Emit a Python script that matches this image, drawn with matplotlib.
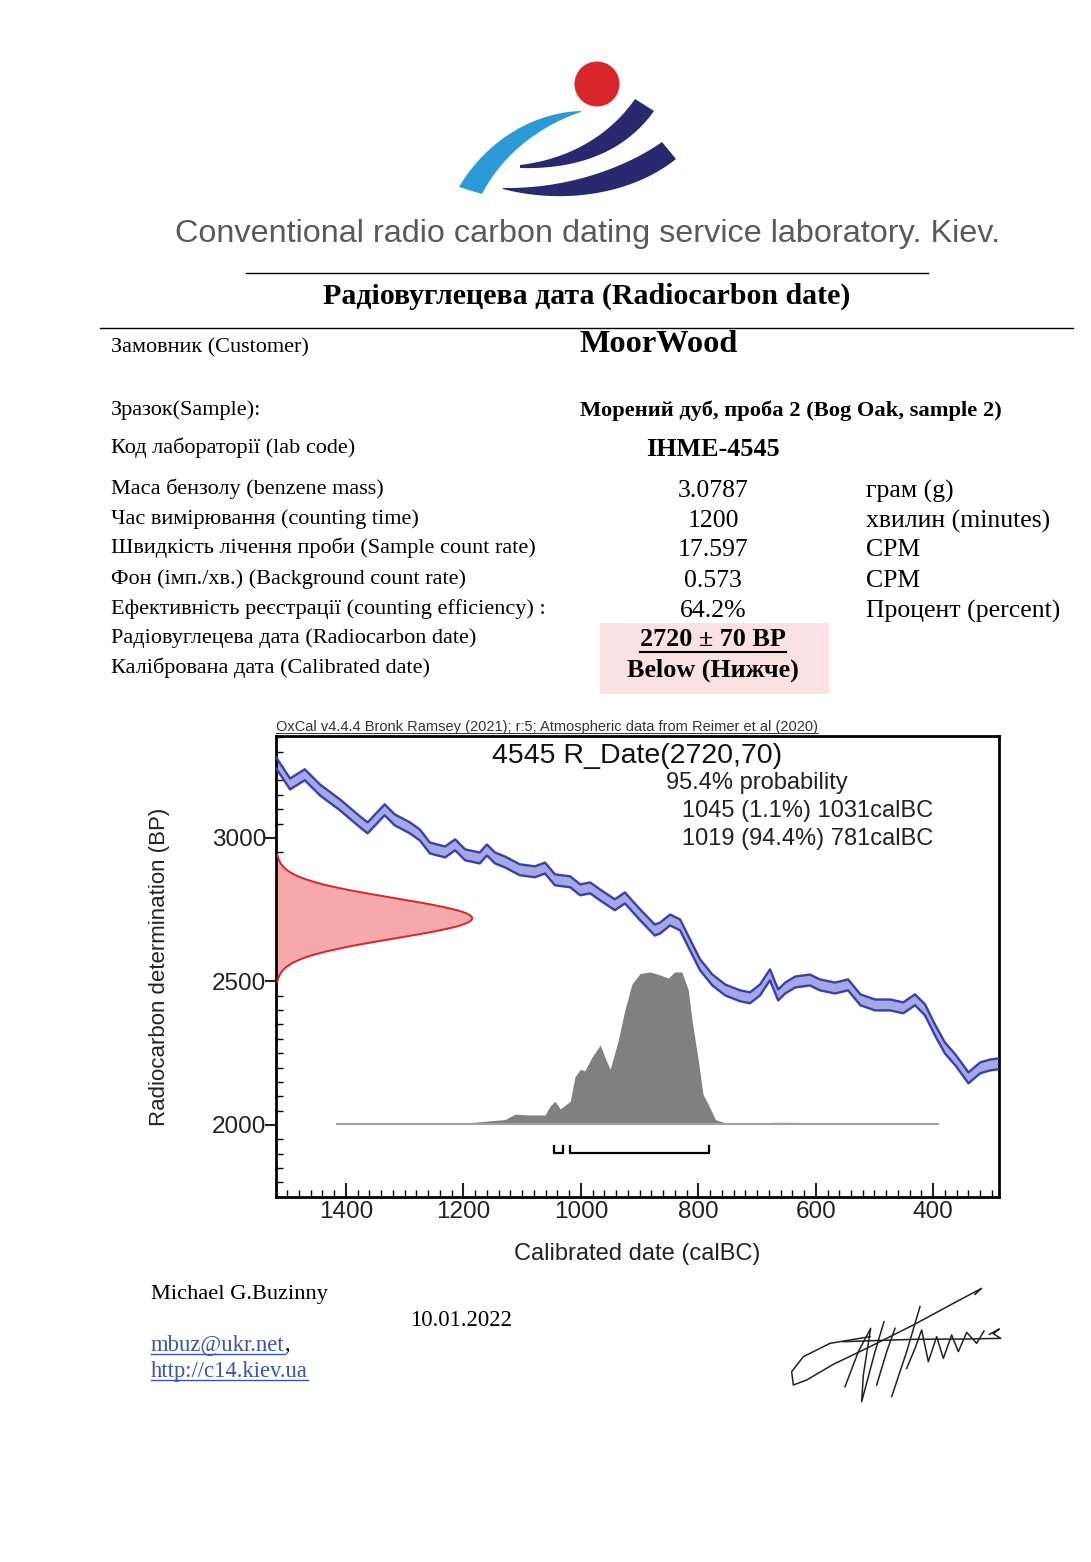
import numpy as np
import matplotlib.pyplot as plt
from matplotlib.patches import Circle, Polygon, Rectangle
from matplotlib.ticker import MultipleLocator
from math import comb

# ---- document text ----
header = "Conventional radio carbon dating service laboratory. Kiev."
title = "Радіовуглецева дата (Radiocarbon date)"
customer = "MoorWood"
sample = "Морений дуб, проба 2 (Bog Oak, sample 2)"
lab_code = "IHME-4545"
row_labels = [
    "Маса бензолу (benzene mass)",
    "Час вимірювання (counting time)",
    "Швидкість лічення проби (Sample count rate)",
    "Фон (імп./хв.) (Background count rate)",
    "Ефективність реєстрації (counting efficiency) :",
    "Радіовуглецева дата (Radiocarbon date)",
    "Калібрована дата (Calibrated date)",
]
row_values = ["3.0787", "1200", "17.597", "0.573", "64.2%"]
row_units = ["грам (g)", "хвилин (minutes)", "CPM", "CPM", "Процент (percent)"]
rc_date = "2720 ± 70 BP"
cal_text = "Below (Нижче)"

# ---- OxCal data ----
r_mean, r_sd = 2720, 70
ranges = [(1045, 1031), (1019, 781)]
range_text = ["1045 (1.1%) 1031calBC", "1019 (94.4%) 781calBC"]

# calibration curve (calBC, BP)
cal_x = [1519, 1495, 1470, 1444, 1410, 1376, 1363, 1334, 1317, 1291, 1274, 1257,
         1231, 1214, 1197, 1172, 1160, 1146, 1129, 1104, 1078, 1061, 1044, 1018,
         1001, 984, 967, 942, 925, 899, 874, 865, 848, 831, 814, 797, 776, 754,
         729, 712, 695, 678, 664, 652, 635, 610, 593, 567, 545, 524, 499, 473,
         451, 431, 414, 397, 380, 362, 340, 320, 303, 288]
cal_bp = [3262, 3188, 3220, 3167, 3115, 3056, 3035, 3098, 3063, 3035, 3010, 2965,
          2951, 2976, 2941, 2930, 2958, 2930, 2916, 2889, 2882, 2895, 2854, 2847,
          2819, 2826, 2801, 2767, 2791, 2732, 2679, 2686, 2714, 2697, 2627, 2558,
          2505, 2470, 2450, 2443, 2470, 2523, 2453, 2477, 2498, 2505, 2488, 2477,
          2488, 2436, 2418, 2418, 2408, 2436, 2401, 2331, 2268, 2226, 2164, 2199,
          2209, 2213]
cal_err = 19

# calibrated probability (relative)
prob_x = [1415, 1206, 1129, 1112, 1087, 1061, 1052, 1044, 1035, 1018, 1010, 1001,
          993, 981, 967, 957, 950, 937, 925, 913, 899, 882, 865, 851, 840, 828,
          817, 811, 800, 792, 783, 771, 754, 700, 670, 600, 392]
prob_y = [0.0, 0.004, 0.03, 0.065, 0.06, 0.06, 0.12, 0.15, 0.10, 0.15, 0.31, 0.36,
          0.35, 0.44, 0.52, 0.42, 0.36, 0.54, 0.75, 0.92, 0.99, 1.0, 0.98, 0.96,
          1.0, 1.0, 0.88, 0.69, 0.42, 0.195, 0.13, 0.03, 0.008, 0.0, 0.012, 0.01, 0.0]

W, H = 1091, 1562
fig = plt.figure(figsize=(W / 100, H / 100), dpi=100)
bg = fig.add_axes([0, 0, 1, 1])
bg.set_xlim(0, W)
bg.set_ylim(H, 0)
bg.axis('off')

serif = 'Liberation Serif'
sans = 'Liberation Sans'


def bez(pts, n=80):
    pts = np.asarray(pts, float)
    k = len(pts) - 1
    t = np.linspace(0, 1, n)[:, None]
    return sum(comb(k, i) * t ** i * (1 - t) ** (k - i) * pts[i] for i in range(k + 1))


def stroke(outer, inner, color):
    a = bez(outer)
    b = bez(inner)[::-1]
    bg.add_patch(Polygon(np.vstack([a, b]), closed=True, color=color, lw=0))


# logo
bg.add_patch(Circle((597, 84), 22.5, color='#d9262a', lw=0))
stroke([(459, 187), (490, 135), (540, 112), (581, 111)],
       [(482, 194), (505, 150), (545, 124), (581, 112)], '#2b9ad6')
stroke([(520, 165), (578, 158), (615, 128), (635, 99)],
       [(520, 168), (592, 170), (632, 142), (654, 111)], '#28296f')
stroke([(503, 188), (570, 189), (628, 166), (662, 142)],
       [(503, 189), (560, 204), (630, 196), (676, 159)], '#28296f')

bg.text(588, 234, header, fontsize=23.3, family=sans, color='#5a5a5a',
        ha='center', va='center')
bg.plot([246, 928], [273, 273], color='black', lw=1)
bg.text(587, 296, title, fontsize=21.5, family=serif, weight='bold',
        ha='center', va='center')
bg.plot([100, 1073], [328, 328], color='black', lw=1)

fs = 16
bg.text(111, 348, "Замовник (Customer)", fontsize=fs, family=serif, va='center')
bg.text(580, 345, customer, fontsize=23.3, family=serif, weight='bold', va='center')
bg.text(111, 410, "Зразок(Sample):", fontsize=fs, family=serif, va='center')
bg.text(580, 411, sample, fontsize=16.2, family=serif, weight='bold', va='center')
bg.text(111, 448, "Код лабораторії (lab code)", fontsize=fs, family=serif, va='center')
bg.text(713, 450, lab_code, fontsize=18.8, family=serif, weight='bold',
        ha='center', va='center')

bg.add_patch(Rectangle((600, 623), 229, 71, color='#fbe1e1', lw=0))
row_y = [489, 519, 548, 579, 609, 638, 668]
for i, lab in enumerate(row_labels):
    bg.text(111, row_y[i], lab, fontsize=fs, family=serif, va='center')
    if i < len(row_values):
        bg.text(713, row_y[i] + 2, row_values[i], fontsize=18.5, family=serif,
                ha='center', va='center')
        bg.text(866, row_y[i] + 2, row_units[i], fontsize=18.5, family=serif,
                va='center')
t_rc = bg.text(713, 640, rc_date, fontsize=18.8, family=serif, weight='bold',
               ha='center', va='center')
bg.text(713, 670, cal_text, fontsize=18.8, family=serif, weight='bold',
        ha='center', va='center')

# footer
bg.text(151, 1294, "Michael G.Buzinny", fontsize=16.1, family=serif, va='center')
bg.text(410, 1320, "10.01.2022", fontsize=16.3, family=serif, va='center')
link1 = bg.text(151, 1345, "mbuz@ukr.net", fontsize=16.3, family=serif,
                color='#3b55a8', va='center')
link2 = bg.text(151, 1371, "http://c14.kiev.ua", fontsize=16.3, family=serif,
                color='#3b55a8', va='center')

# signature
ox, oy = 780, 1275
sig = [
    [(270, 185), (150, 205), (70, 245), (35, 290), (40, 330), (80, 315), (160, 268),
     (260, 220), (400, 150), (520, 85), (605, 40), (585, 58)],
    [(190, 200), (400, 193), (560, 192), (662, 190), (640, 176), (658, 162), (628, 178)],
    [(195, 335), (235, 230), (272, 160), (250, 300), (245, 380), (285, 230), (312, 140)],
    [(290, 330), (320, 230), (345, 160)],
    [(335, 365), (380, 230), (420, 95)],
    [(380, 280), (405, 220), (425, 165), (445, 260), (470, 185), (490, 250),
     (515, 180), (535, 230), (560, 172), (590, 205), (612, 168)],
]
for s in sig:
    s = np.array(s, float)
    bg.plot(s[:, 0] / 3 + ox, s[:, 1] / 3 + oy, color='#222222', lw=1.1)

# ---- OxCal chart ----
ax = fig.add_axes([276 / W, 1 - 1197 / H, (999 - 276) / W, (1197 - 736) / H])
ax.set_xlim(1519, 288)
ax.set_ylim(1749, 3355)

cx = np.array(cal_x, float)
cb = np.array(cal_bp, float)
ax.fill_between(cx, cb - cal_err, cb + cal_err, color='#a4a8e6', lw=0, zorder=2)
ax.plot(cx, cb - cal_err, color='#3b40a8', lw=1.7, zorder=3)
ax.plot(cx, cb + cal_err, color='#3b40a8', lw=1.7, zorder=3)

# radiocarbon date distribution on the y axis
yy = np.linspace(r_mean - 3.15 * r_sd, r_mean + 3.15 * r_sd, 300)
pdf = np.exp(-0.5 * ((yy - r_mean) / r_sd) ** 2)
xr = 1519 - 334 * pdf
ax.fill_betweenx(yy, 1519, xr, color='#f5a9aa', lw=0, zorder=2)
ax.plot(xr, yy, color='#d8262b', lw=1.4, zorder=3)

# calibrated distribution
px = np.array(prob_x, float)
py = 2003 + 530 * np.array(prob_y, float)
ax.fill_between(px, 2003, py, color='#808080', lw=0, zorder=2)
ax.plot([prob_x[0], prob_x[-1]], [2003, 2003], color='#a0a0a0', lw=1.5, zorder=2)

for a, b in ranges:
    ax.plot([a, a, b, b], [1928, 1902, 1902, 1928], color='black', lw=1.6, zorder=3)

for s in ax.spines.values():
    s.set_linewidth(2)
ax.yaxis.set_major_locator(MultipleLocator(500))
ax.yaxis.set_minor_locator(MultipleLocator(50))
ax.xaxis.set_major_locator(MultipleLocator(200))
ax.xaxis.set_minor_locator(MultipleLocator(20))
ax.tick_params(axis='y', which='major', direction='out', length=8, width=1.5,
               labelsize=17.5, pad=-1, colors='#222222')
ax.tick_params(axis='y', which='minor', direction='in', length=5, width=1)
ax.tick_params(axis='x', which='major', direction='in', length=10, width=1.5,
               labelsize=17.5, pad=3, colors='#222222')
ax.tick_params(axis='x', which='minor', direction='in', length=5, width=1)
for lab in ax.get_xticklabels() + ax.get_yticklabels():
    lab.set_family(sans)
ax.set_xlabel("Calibrated date (calBC)", fontsize=17, family=sans,
              color='#222222', labelpad=14)
ax.set_ylabel("Radiocarbon determination (BP)", fontsize=16, family=sans,
              color='#222222', labelpad=30)

t_ox = ax.text(0.0, 1.004, "OxCal v4.4.4 Bronk Ramsey (2021); r:5; Atmospheric data from Reimer et al (2020)",
               transform=ax.transAxes, fontsize=10.5, family=sans, color='#333333',
               va='bottom', ha='left')
ax.text(0.5, 0.956, "4545 R_Date(2720,70)", transform=ax.transAxes, fontsize=20.5,
        family=sans, ha='center', va='center', color='#111111')
ax.text(0.540, 0.898, "95.4% probability", transform=ax.transAxes, fontsize=17,
        family=sans, va='center', color='#222222')
ax.text(0.562, 0.838, range_text[0], transform=ax.transAxes, fontsize=17,
        family=sans, va='center', color='#222222')
ax.text(0.562, 0.777, range_text[1], transform=ax.transAxes, fontsize=17,
        family=sans, va='center', color='#222222')

# underlines
fig.canvas.draw()


def underline(t, color, off=2, lw=1):
    bb = t.get_window_extent()
    y = H - bb.y0 + off
    bg.plot([bb.x0, bb.x1], [y, y], color=color, lw=lw)


underline(t_rc, 'black', off=0, lw=1.5)
underline(link1, '#3b55a8', off=-2)
underline(link2, '#3b55a8', off=-2)
underline(t_ox, '#333333', off=-1, lw=0.7)
b1 = link1.get_window_extent()
bg.text(b1.x1, 1345, ",", fontsize=16.3, family=serif, va='center')

fig.savefig("out.png", dpi=100)
